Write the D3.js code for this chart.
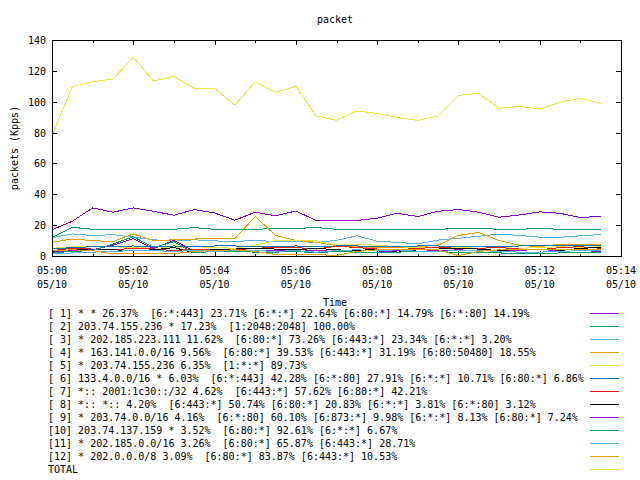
<!DOCTYPE html>
<html><head><meta charset="utf-8">
<script src="https://cdn.jsdelivr.net/npm/d3@7"></script>
<style>
body{margin:0;background:#fff}
svg text{font-family:"DejaVu Sans Mono","Liberation Mono",monospace;font-size:10px;fill:#000}
</style>
</head><body>
<svg id="chart" width="640" height="480"></svg>
<script>
const times = ["05:00:00","05:00:30","05:01:00","05:01:30","05:02:00","05:02:30","05:03:00","05:03:30",
  "05:04:00","05:04:30","05:05:00","05:05:30","05:06:00","05:06:30","05:07:00","05:07:30",
  "05:08:00","05:08:30","05:09:00","05:09:30","05:10:00","05:10:30","05:11:00","05:11:30",
  "05:12:00","05:12:30","05:13:00","05:13:30"];
const s1 = [17,22.5,31.2,28.4,31.2,29,26.4,30.1,27.9,23.2,28.4,26,29.2,23,23,23,24.5,27.7,25.6,29,30.1,28.4,25.1,26.6,28.6,27.7,24.9,25.8];
const s2 = [12.1,18.6,17.3,17.3,17.3,17.3,17.3,18.4,17.3,17.3,17.3,17.8,17.8,18.5,17.3,17.3,17.3,17.3,17.3,17.3,17.9,17.9,17.3,17.3,17.9,17.3,17.3,17.3];
const s3 = [11.8,14.3,13.3,13.8,12.3,10.5,9.6,10.5,9.8,9.3,10.2,9.3,9.3,8.9,10.1,13.1,9.6,8.8,7.9,10.3,11.5,12.8,14.2,13.3,12.2,12.1,13.1,13.9];
const s4 = [8.9,11,10,9.3,14.3,10,10.5,11,11.5,11.3,25.6,13.3,10.1,8.9,6.7,6,5.5,5.5,6,7,13.3,15.3,10,7,6,7.7,7.7,7.7];
const s5 = [5,6,6.5,6,5.5,5,5.5,6,5.5,5,7,10,10.2,9.8,7,7.5,7,6,5.5,5.5,5.5,6,5.5,5,5.5,6,5.5,6];
const s6 = [4.5,5.5,6,6,6.5,6,6.5,6,6.5,6.5,6,6,6.5,6,6.5,6.5,6,6,6.5,6.5,6,6,6,6.5,7,7,6.5,6.5];
const s7 = [3.5,5,4.5,4,5,4.5,3.5,4.5,4,4,5,5.5,5.5,4.5,6.3,5.5,4.5,4,5,5.5,5,5,5.5,4.5,4,5.5,6,5];
const s8 = [3,4,4.5,4,3.5,4,5.5,2,4.5,4.5,5,4.5,4,5,4,3.5,4.5,2.5,4,4.5,5,4.5,3.5,4,4.5,3.5,5,5.5];
const s9 = [2.5,3.5,4,7,11.3,4.8,10.2,3,3.5,3,3.5,3.5,3,3.5,3,2.5,2.5,3.5,3,3.5,4,3.5,3,3.5,4.5,3,3.5,3];
const s10 = [2,3,3.5,7.8,12.5,5.5,9.3,2,3,3,2.5,2.5,3,2,3,2.5,2,2.5,3,3,2,2.5,2,1.5,1.5,2,2,2];
const s11 = [1.3,2,2.5,3,3.5,3.5,3,3.5,3,3.5,3.5,3,3.5,2.5,3.5,4,3.5,4,3,3,3.5,3.5,3,2.5,2.5,3,3.5,3.5];
const s12 = [3.5,4,3.5,1.3,1.3,1.3,1.5,3,3.5,4,3,1,1,1,0.3,3,4,4,4.5,4,0.3,3,4,4.5,4,4,4,4];
const total = [78,109.7,113,114.7,128.8,113.4,116.4,108.6,108.6,97.8,113,106,110,90.7,88,94,92.4,89.8,87.9,90.7,104.1,105.4,95.7,97,95.2,99.7,102.1,98.9];

const legendLabels = [
  "[ 1] * * 26.37%  [6:*:443] 23.71% [6:*:*] 22.64% [6:80:*] 14.79% [6:*:80] 14.19%",
  "[ 2] 203.74.155.236 * 17.23%  [1:2048:2048] 100.00%",
  "[ 3] * 202.185.223.111 11.62%  [6:80:*] 73.26% [6:443:*] 23.34% [6:*:*] 3.20%",
  "[ 4] * 163.141.0.0/16 9.56%  [6:80:*] 39.53% [6:443:*] 31.19% [6:80:50480] 18.55%",
  "[ 5] * 203.74.155.236 6.35%  [1:*:*] 89.73%",
  "[ 6] 133.4.0.0/16 * 6.03%  [6:*:443] 42.28% [6:*:80] 27.91% [6:*:*] 10.71% [6:80:*] 6.86%",
  "[ 7] *:: 2001:1c30::/32 4.62%  [6:443:*] 57.62% [6:80:*] 42.21%",
  "[ 8] *:: *:: 4.20%  [6:443:*] 50.74% [6:80:*] 20.83% [6:*:*] 3.81% [6:*:80] 3.12%",
  "[ 9] * 203.74.0.0/16 4.16%  [6:*:80] 60.10% [6:873:*] 9.98% [6:*:*] 8.13% [6:80:*] 7.24%",
  "[10] 203.74.137.159 * 3.52%  [6:80:*] 92.61% [6:*:*] 6.67%",
  "[11] * 202.185.0.0/16 3.26%  [6:80:*] 65.87% [6:443:*] 28.71%",
  "[12] * 202.0.0.0/8 3.09%  [6:80:*] 83.87% [6:443:*] 10.53%",
  "TOTAL"
];
const seriesData = [s1,s2,s3,s4,s5,s6,s7,s8,s9,s10,s11,s12,total];
const colors = ["#9400d3","#009e73","#56b4e9","#e69f00","#f0e442","#0072b2","#e51e10","#000000",
  "#9400d3","#009e73","#56b4e9","#e69f00","#f0e442"];
const yTicks = [0,20,40,60,80,100,120,140];
const title = "packet", yTitle = "packets (Kpps)", xTitle = "Time";

const svg = d3.select("#chart");
const L = 52, R = 621, T = 40, B = 256;
const parse = d3.timeParse("%Y-%m-%d %H:%M:%S");
const dates = times.map(t => parse("2013-05-10 " + t));
const x = d3.scaleTime().domain([parse("2013-05-10 05:00:00"), parse("2013-05-10 05:14:00")]).range([L, R]);
const y = d3.scaleLinear().domain([0, 140]).range([B, T]);

// axes with inward ticks
const majorX = d3.timeMinute.every(2).range(parse("2013-05-10 05:00:00"), parse("2013-05-10 05:14:01"));
const minorX = d3.timeMinute.every(1).range(parse("2013-05-10 05:00:00"), parse("2013-05-10 05:14:01"));
const g = svg.append("g").attr("shape-rendering","crispEdges");
g.append("g").attr("transform",`translate(0,${B})`).call(d3.axisBottom(x).tickValues(minorX).tickSize(-2.5).tickFormat(""));
g.append("g").attr("transform",`translate(0,${B})`).call(d3.axisBottom(x).tickValues(majorX).tickSize(-5).tickFormat(""));
g.append("g").attr("transform",`translate(0,${T})`).call(d3.axisTop(x).tickValues(minorX).tickSize(-2.5).tickFormat(""));
g.append("g").attr("transform",`translate(0,${T})`).call(d3.axisTop(x).tickValues(majorX).tickSize(-5).tickFormat(""));
g.append("g").attr("transform",`translate(${L},0)`).call(d3.axisLeft(y).tickValues(yTicks).tickSize(-5).tickFormat(""));
g.append("g").attr("transform",`translate(${R},0)`).call(d3.axisRight(y).tickValues(yTicks).tickSize(-5).tickFormat(""));
g.selectAll(".domain").remove();
g.selectAll(".tick line").attr("stroke","#000");

// tick labels
const fH = d3.timeFormat("%H:%M"), fD = d3.timeFormat("%m/%d");
svg.append("g").selectAll("text.xh").data(majorX).join("text")
  .attr("x", d => x(d)).attr("y", B + 18).attr("text-anchor","middle").text(d => fH(d));
svg.append("g").selectAll("text.xd").data(majorX).join("text")
  .attr("x", d => x(d)).attr("y", B + 32).attr("text-anchor","middle").text(d => fD(d));
svg.append("g").selectAll("text.y").data(yTicks).join("text")
  .attr("x", L - 6).attr("y", d => y(d) + 4).attr("text-anchor","end").text(d => d);

// lines
const line = d3.line().x((d,i) => x(dates[i])).y(d => y(d));
const pg = svg.append("g");
seriesData.forEach((s, k) => {
  pg.append("path").datum(s).attr("d", line).attr("fill","none")
    .attr("stroke", colors[k]).attr("stroke-width", 1).attr("shape-rendering","crispEdges");
});

// frame
svg.append("rect").attr("x", L + 0.5).attr("y", T + 0.5).attr("width", R - L).attr("height", B - T)
  .attr("fill","none").attr("stroke","#000").attr("shape-rendering","crispEdges");

// titles
svg.append("text").attr("x", 335).attr("y", 23).attr("text-anchor","middle").text(title);
svg.append("text").attr("x", 335).attr("y", 306).attr("text-anchor","middle").text(xTitle);
svg.append("text").attr("transform","translate(18,148) rotate(-90)").attr("text-anchor","middle").text(yTitle);

// legend
const lg = svg.append("g");
legendLabels.forEach((lab, k) => {
  const yy = 313 + k * 13;
  lg.append("text").attr("x", 48).attr("y", yy + 4).attr("xml:space","preserve").style("white-space","pre").text(lab);
  lg.append("line").attr("x1", 590).attr("x2", 619).attr("y1", yy + 0.5).attr("y2", yy + 0.5)
    .attr("stroke", colors[k]).attr("shape-rendering","crispEdges");
});
</script>
</body></html>
